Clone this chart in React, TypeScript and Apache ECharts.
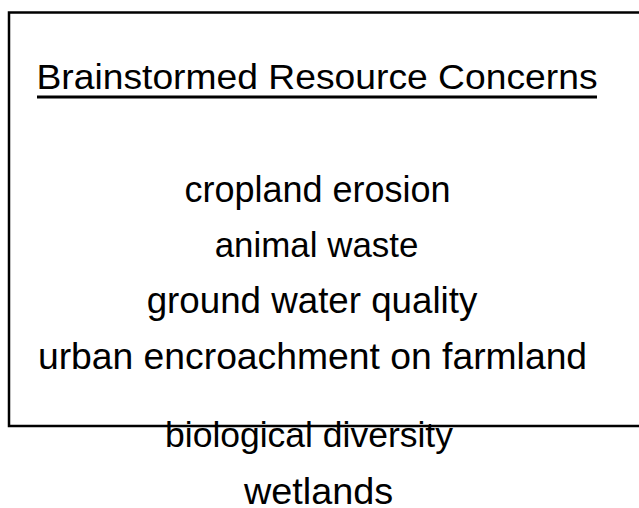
import React, { useEffect, useRef } from "react";
import * as echarts from "echarts";

const title = "Brainstormed Resource Concerns";
const concerns = [
  "cropland erosion",
  "animal waste",
  "ground water quality",
  "urban encroachment on farmland",
  "biological diversity",
  "wetlands",
];

// layout (positions kept apart from the content)
const titlePos = { x: 317, y: 76.5, scaleX: 1.035 };
const concernCenters = [317.5, 316.5, 312, 312.5, 309, 318.5];
const concernYs = [189.5, 244.5, 300.5, 356.5, 434.5, 491.5];
const concernScaleX = [1.0, 0.97, 1.02, 1.036, 0.986, 1.05];

export default function App() {
  const ref = useRef<HTMLDivElement>(null);
  useEffect(() => {
    if (!ref.current) return;
    const chart = echarts.init(ref.current, undefined, { renderer: "svg" });
    const font = "'Liberation Sans', Arial, sans-serif";
    const elements: any[] = [
      {
        type: "rect",
        shape: { x: 9, y: 12.5, width: 640, height: 413.5 },
        style: { fill: "none", stroke: "#000", lineWidth: 2.5 },
        z: 1,
      },
      {
        type: "text",
        x: titlePos.x,
        y: titlePos.y,
        scaleX: titlePos.scaleX,
        style: {
          text: title,
          fill: "#000",
          fontSize: 36,
          fontFamily: font,
          lineHeight: 30,
          textAlign: "center",
          textVerticalAlign: "middle",
        },
        z: 2,
      },
      {
        type: "line",
        shape: { x1: 37, y1: 97, x2: 597, y2: 97 },
        style: { stroke: "#000", lineWidth: 3 },
        z: 2,
      },
    ];
    concerns.forEach((c, i) => {
      elements.push({
        type: "text",
        x: concernCenters[i],
        y: concernYs[i],
        scaleX: concernScaleX[i],
        style: {
          text: c,
          fill: "#000",
          fontSize: 36,
          fontFamily: font,
          lineHeight: 30,
          textAlign: "center",
          textVerticalAlign: "middle",
        },
        z: 2,
      });
    });
    chart.setOption({
      animation: false,
      backgroundColor: "#fff",
      graphic: { elements },
    });
    return () => chart.dispose();
  }, []);
  return (
    <div
      ref={ref}
      style={{ position: "absolute", left: 0, top: 0, width: 639, height: 508 }}
    />
  );
}
